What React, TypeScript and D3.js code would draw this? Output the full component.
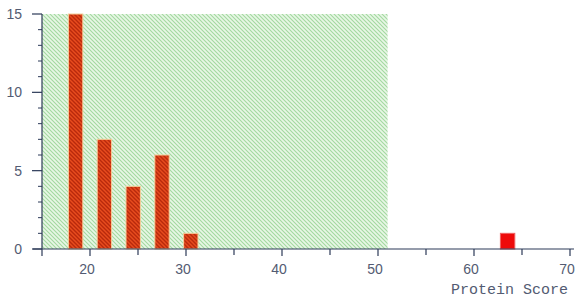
import React from 'react';
import * as d3 from 'd3';

// histogram of protein scores
const binCenters = [18.5, 21.5, 24.5, 27.5, 30.5, 63.5];
const binCounts = [15, 7, 4, 6, 1, 1];
const threshold = 51;
const xTicks = [20, 30, 40, 50, 60, 70];
const yTicks = [0, 5, 10, 15];
const xLabel = 'Protein Score';

const W = 580;
const H = 298;

const App: React.FC = () => {
    const x = d3.scaleLinear().domain([15, 70]).range([42, 570]);
    const y = d3.scaleLinear().domain([0, 15]).range([249, 14]);
    const barW = x(16.5) - x(15);
    const axisColor = '#2c3a58';
    const textColor = '#535b72';
    const minorX = d3.range(15, 71, 5).filter(v => !xTicks.includes(v) && v > 15);
    const minorY = d3.range(0, 16, 1).filter(v => !yTicks.includes(v));

    return (
        <svg width={W} height={H} style={{ position: 'absolute', left: 0, top: 0, background: '#fff' }}>
            <defs>
                <pattern id="greenHatch" patternUnits="userSpaceOnUse" width={4} height={4}>
                    <rect width={4} height={4} fill="#e8f7e6" />
                    <path d="M-1,-1 L5,5 M-1,3 L1,5 M3,-1 L5,1" stroke="#a3d9a0" strokeWidth={1.1} />
                </pattern>
                <pattern id="redHatch" patternUnits="userSpaceOnUse" width={4} height={4}>
                    <rect width={4} height={4} fill="#e84c1e" />
                    <path d="M-1,-1 L5,5 M-1,3 L1,5 M3,-1 L5,1" stroke="#b8290c" strokeWidth={1.4} />
                </pattern>
            </defs>

            <rect x={x(15)} y={y(15)} width={x(threshold) - x(15)} height={y(0) - y(15)} fill="url(#greenHatch)" />

            {binCenters.map((c, i) => {
                const inside = c < threshold;
                return (
                    <rect
                        key={i}
                        x={x(c) - barW / 2}
                        y={y(binCounts[i])}
                        width={barW}
                        height={y(0) - y(binCounts[i])}
                        fill={inside ? 'url(#redHatch)' : '#ee0a0a'}
                        stroke={inside ? '#f3cf9c' : '#f06060'}
                        strokeWidth={1}
                    />
                );
            })}

            {/* axes */}
            <line x1={33} x2={574} y1={y(0)} y2={y(0)} stroke={axisColor} strokeWidth={1.2} />
            <line x1={x(15)} x2={x(15)} y1={y(15)} y2={y(0) + 7} stroke={axisColor} strokeWidth={1.2} />

            {xTicks.map(t => (
                <g key={t}>
                    <line x1={x(t)} x2={x(t)} y1={y(0)} y2={y(0) + 7} stroke={axisColor} strokeWidth={1.2} />
                    <text x={x(t) - 3} y={274} textAnchor="middle" fontFamily="Liberation Sans" fontSize={14} fill={textColor}>{t}</text>
                </g>
            ))}
            {minorX.map(t => (
                <line key={t} x1={x(t)} x2={x(t)} y1={y(0)} y2={y(0) + 6} stroke={axisColor} strokeWidth={1.2} />
            ))}

            {yTicks.map(t => (
                <g key={t}>
                    <line x1={32} x2={x(15)} y1={y(t)} y2={y(t)} stroke={axisColor} strokeWidth={1.2} />
                    <text x={22} y={y(t) + 5} textAnchor="end" fontFamily="Liberation Sans" fontSize={14} fill={textColor}>{t}</text>
                </g>
            ))}
            {minorY.map(t => (
                <line key={t} x1={38} x2={x(15)} y1={y(t)} y2={y(t)} stroke={axisColor} strokeWidth={1} />
            ))}

            <text x={568} y={294} textAnchor="end" fontFamily="Liberation Mono" fontSize={15} fill={textColor}>{xLabel}</text>
        </svg>
    );
};

export default App;
